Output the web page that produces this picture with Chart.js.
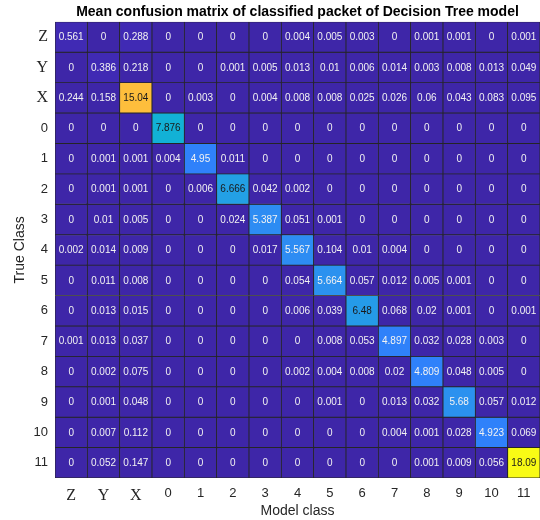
<!DOCTYPE html>
<html>
<head>
<meta charset="utf-8">
<script src="https://cdn.jsdelivr.net/npm/chart.js@4.4.1/dist/chart.umd.min.js"></script>
<style>
  html, body { margin: 0; padding: 0; background: #fff; }
  #wrap { width: 540px; height: 520px; }
</style>
</head>
<body>
<div id="wrap"><canvas id="chart"></canvas></div>
<script>
'use strict'

// categorias (filas = clase real, columnas = clase del modelo)
const trueClasses  = ['Z', 'Y', 'X', '0', '1', '2', '3', '4', '5', '6', '7', '8', '9', '10', '11'];
const modelClasses = ['Z', 'Y', 'X', '0', '1', '2', '3', '4', '5', '6', '7', '8', '9', '10', '11'];

// valores de cada fila
const rowZ  = [0.561, 0, 0.288, 0, 0, 0, 0, 0.004, 0.005, 0.003, 0, 0.001, 0.001, 0, 0.001];
const rowY  = [0, 0.386, 0.218, 0, 0, 0.001, 0.005, 0.013, 0.01, 0.006, 0.014, 0.003, 0.008, 0.013, 0.049];
const rowX  = [0.244, 0.158, 15.04, 0, 0.003, 0, 0.004, 0.008, 0.008, 0.025, 0.026, 0.06, 0.043, 0.083, 0.095];
const row0  = [0, 0, 0, 7.876, 0, 0, 0, 0, 0, 0, 0, 0, 0, 0, 0];
const row1  = [0, 0.001, 0.001, 0.004, 4.95, 0.011, 0, 0, 0, 0, 0, 0, 0, 0, 0];
const row2  = [0, 0.001, 0.001, 0, 0.006, 6.666, 0.042, 0.002, 0, 0, 0, 0, 0, 0, 0];
const row3  = [0, 0.01, 0.005, 0, 0, 0.024, 5.387, 0.051, 0.001, 0, 0, 0, 0, 0, 0];
const row4  = [0.002, 0.014, 0.009, 0, 0, 0, 0.017, 5.567, 0.104, 0.01, 0.004, 0, 0, 0, 0];
const row5  = [0, 0.011, 0.008, 0, 0, 0, 0, 0.054, 5.664, 0.057, 0.012, 0.005, 0.001, 0, 0];
const row6  = [0, 0.013, 0.015, 0, 0, 0, 0, 0.006, 0.039, 6.48, 0.068, 0.02, 0.001, 0, 0.001];
const row7  = [0.001, 0.013, 0.037, 0, 0, 0, 0, 0, 0.008, 0.053, 4.897, 0.032, 0.028, 0.003, 0];
const row8  = [0, 0.002, 0.075, 0, 0, 0, 0, 0.002, 0.004, 0.008, 0.02, 4.809, 0.048, 0.005, 0];
const row9  = [0, 0.001, 0.048, 0, 0, 0, 0, 0, 0.001, 0, 0.013, 0.032, 5.68, 0.057, 0.012];
const row10 = [0, 0.007, 0.112, 0, 0, 0, 0, 0, 0, 0, 0.004, 0.001, 0.028, 4.923, 0.069];
const row11 = [0, 0.052, 0.147, 0, 0, 0, 0, 0, 0, 0, 0, 0.001, 0.009, 0.056, 18.09];

const rows = [rowZ, rowY, rowX, row0, row1, row2, row3, row4, row5, row6, row7, row8, row9, row10, row11];

// parula (64 niveles)
const parula = [
  [0.2422,0.1504,0.6603],[0.2504,0.1650,0.7076],[0.2578,0.1818,0.7511],[0.2647,0.1978,0.7952],
  [0.2706,0.2147,0.8364],[0.2751,0.2342,0.8710],[0.2783,0.2559,0.8991],[0.2803,0.2782,0.9221],
  [0.2813,0.3006,0.9414],[0.2810,0.3228,0.9579],[0.2795,0.3447,0.9717],[0.2760,0.3667,0.9829],
  [0.2699,0.3892,0.9906],[0.2602,0.4123,0.9952],[0.2440,0.4358,0.9988],[0.2206,0.4603,0.9973],
  [0.1963,0.4847,0.9892],[0.1834,0.5074,0.9798],[0.1786,0.5289,0.9682],[0.1764,0.5499,0.9520],
  [0.1687,0.5703,0.9359],[0.1540,0.5902,0.9218],[0.1460,0.6091,0.9079],[0.1380,0.6276,0.8973],
  [0.1248,0.6459,0.8883],[0.1113,0.6635,0.8763],[0.0952,0.6798,0.8598],[0.0689,0.6948,0.8394],
  [0.0297,0.7082,0.8163],[0.0036,0.7203,0.7917],[0.0067,0.7312,0.7660],[0.0433,0.7411,0.7394],
  [0.0964,0.7500,0.7120],[0.1408,0.7584,0.6842],[0.1717,0.7670,0.6554],[0.1938,0.7758,0.6251],
  [0.2161,0.7843,0.5923],[0.2470,0.7918,0.5567],[0.2906,0.7973,0.5188],[0.3406,0.8008,0.4789],
  [0.3909,0.8029,0.4354],[0.4456,0.8024,0.3909],[0.5044,0.7993,0.3480],[0.5616,0.7942,0.3045],
  [0.6174,0.7876,0.2612],[0.6720,0.7793,0.2227],[0.7242,0.7698,0.1910],[0.7738,0.7598,0.1646],
  [0.8203,0.7498,0.1535],[0.8634,0.7406,0.1596],[0.9035,0.7330,0.1774],[0.9393,0.7288,0.2100],
  [0.9728,0.7298,0.2394],[0.9956,0.7434,0.2371],[0.9970,0.7659,0.2199],[0.9952,0.7893,0.2028],
  [0.9892,0.8136,0.1885],[0.9786,0.8386,0.1766],[0.9676,0.8639,0.1643],[0.9610,0.8890,0.1537],
  [0.9597,0.9135,0.1423],[0.9628,0.9373,0.1265],[0.9691,0.9606,0.1064],[0.9769,0.9839,0.0805]
];

const vMin = Math.min(...rows.flat());
const vMax = Math.max(...rows.flat());

function indiceColor(v){
    let i = Math.floor((v - vMin) / (vMax - vMin) * parula.length);
    return Math.max(0, Math.min(parula.length - 1, i));
}
function colorCelda(v){
    const c = parula[indiceColor(v)];
    return 'rgb(' + c.map(x => Math.round(x * 255)).join(',') + ')';
}
function colorTexto(v){
    const c = parula[indiceColor(v)];
    const lum = 0.2989 * c[0] + 0.587 * c[1] + 0.114 * c[2];
    return lum > 0.5 ? '#1a1a1a' : '#f2f2f2';
}

// textos dentro de cada celda
const textoCeldas = {
    id: 'textoCeldas',
    afterDatasetsDraw(chart){
        const ctx = chart.ctx;
        ctx.save();
        ctx.font = '10px "Liberation Sans", Arial, sans-serif';
        ctx.textAlign = 'center';
        ctx.textBaseline = 'middle';
        chart.data.datasets.forEach((ds, r) => {
            const meta = chart.getDatasetMeta(r);
            meta.data.forEach((bar, c) => {
                const p = bar.getProps(['x', 'y', 'base'], true);
                const v = rows[r][c];
                ctx.fillStyle = colorTexto(v);
                ctx.fillText(String(v), p.x, (p.y + p.base) / 2 + 0.5);
            });
        });
        ctx.restore();
    }
};

const serif = { family: '"Liberation Serif", "Times New Roman", serif', size: 16 };
const sans  = { family: '"Liberation Sans", Arial, sans-serif', size: 13 };

function dibujar(){
    const ctx = document.getElementById('chart').getContext('2d');

    // una fila = un dataset apilado de altura 1
    const datasets = rows.map((fila, r) => ({
        label: trueClasses[r],
        data: fila.map(() => 1),
        backgroundColor: fila.map(v => colorCelda(v)),
        borderColor: '#262626',
        borderWidth: 0.8,
        borderSkipped: false,
        barPercentage: 1,
        categoryPercentage: 1,
        stack: 'm'
    }));

    new Chart(ctx, {
        type: 'bar',
        data: { labels: modelClasses, datasets: datasets },
        options: {
            responsive: true,
            maintainAspectRatio: false,
            animation: false,
            layout: { padding: { left: 0, right: 0, top: 0, bottom: 0 } },
            plugins: {
                legend: { display: false },
                tooltip: { enabled: false },
                title: {
                    display: true,
                    text: 'Mean confusion matrix of classified packet of Decision Tree model',
                    fullSize: false,
                    color: '#000',
                    font: { family: '"Liberation Sans", Arial, sans-serif', size: 14, weight: 'bold' },
                    padding: { top: 4, bottom: 1 }
                }
            },
            scales: {
                x: {
                    stacked: true,
                    grid: { display: false, drawTicks: false },
                    border: { display: false },
                    ticks: {
                        autoSkip: false,
                        maxRotation: 0,
                        padding: 8,
                        color: '#262626',
                        font: c => (c.index < 3 ? serif : sans)
                    },
                    title: {
                        display: true,
                        text: 'Model class',
                        color: '#262626',
                        font: { family: '"Liberation Sans", Arial, sans-serif', size: 14 },
                        padding: { top: 0, bottom: 0 }
                    },
                    afterFit(scale){ scale.height = 42; }
                },
                y: {
                    stacked: true,
                    reverse: true,
                    min: 0,
                    max: trueClasses.length,
                    grid: { display: false, drawTicks: false },
                    border: { display: false },
                    afterBuildTicks(scale){
                        scale.ticks = trueClasses.map((t, i) => ({ value: i + 0.5 }));
                    },
                    ticks: {
                        autoSkip: false,
                        padding: 7,
                        color: '#262626',
                        font: c => (c.index < 3 ? serif : sans),
                        callback: (value, index) => trueClasses[index]
                    },
                    title: {
                        display: true,
                        text: 'True Class',
                        color: '#262626',
                        font: { family: '"Liberation Sans", Arial, sans-serif', size: 14 },
                        padding: { top: 12, bottom: 0 }
                    },
                    afterFit(scale){ scale.width = 55; }
                }
            }
        },
        plugins: [textoCeldas]
    });
}

dibujar();
</script>
</body>
</html>
